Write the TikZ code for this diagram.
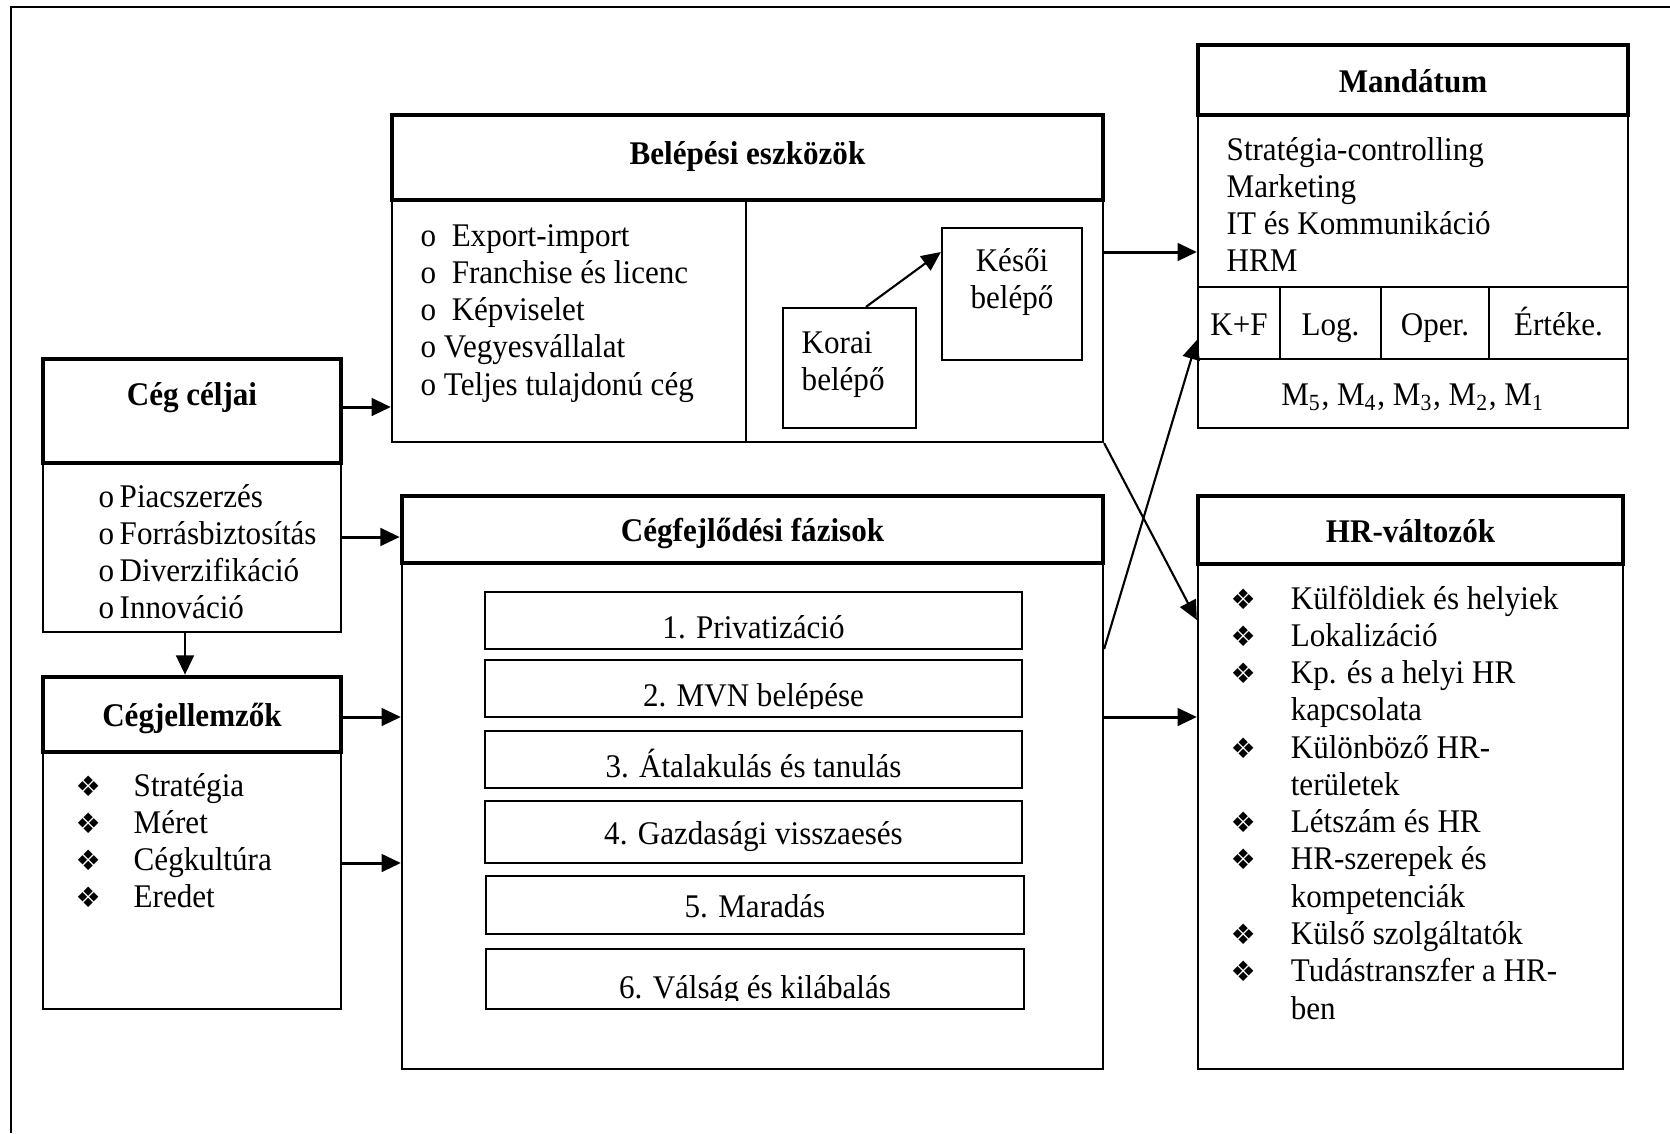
\documentclass[tikz,border=0pt]{standalone}
\usepackage{fontspec}
\setmainfont{Liberation Serif}[FakeStretch=0.94]
\newfontfamily\symfont{DejaVu Sans}
\usetikzlibrary{arrows.meta}
\newcommand{\hrfont}{\fontsize{9.4}{10.6}\selectfont}
\newcommand{\hrlines}[2][l]{\begin{tabular}[t]{@{}#1@{}}#2\end{tabular}}
\newcommand{\dia}[1]{\makebox[#1][l]{\symfont\fontsize{8}{9.6}\selectfont ❖}}
\tikzset{
  hr diagram/.style={font=\hrfont, line join=miter},
  wh/.style 2 args={minimum width=#1*0.01cm, minimum height=#2*0.01cm},
  hr text/.style={text height=8pt, text depth=1pt},
  hr head/.style={draw, line width=1.3pt, inner sep=0pt, hr text, font=\hrfont\bfseries},
  hr body/.style={draw, line width=0.65pt, inner sep=0pt, hr text},
  hr phase/.style={hr body, path picture={
    \clip ([yshift=2.55pt]path picture bounding box.south west) rectangle (path picture bounding box.north east);
    \node[anchor=base, inner sep=0pt, font=\hrfont] at ([yshift=2.85pt]path picture bounding box.south) {#1};}},
  hr list/.style={anchor=base west, inner sep=0pt},
  hr arrow/.style={-{Triangle[length=5.5pt,width=5pt]}, line width=0.85pt},
  hr cross/.style={hr arrow, line width=0.6pt}
}
\begin{document}
\begin{tikzpicture}[hr diagram, x=0.01cm, y=-0.01cm]
\useasboundingbox (0,0) rectangle (1670,1133);
\draw[line width=0.7pt] (11,1133) -- (11,7) -- (1670,7);

% Belépési eszközök
\node[hr head, wh={711}{85}, text depth=4pt] (belhead) at (747.5,157.5) {Belépési eszközök};
\node[hr body, wh={354}{242}] (belleft) at (569,321) {};
\node[hr body, wh={357}{242}] (belright) at (924.5,321) {};
\node[hr list] (bellist) at (420,246) {\hrlines{o~~Export-import\\o~~Franchise és licenc\\o~~Képviselet\\o Vegyesvállalat\\o Teljes tulajdonú cég}};
\node[hr body, wh={133}{120}] (korai) at (849.5,368) {};
\node[hr list] (koraitext) at (801,353) {\hrlines{Korai\\belépő}};
\node[hr body, wh={140}{132}] (kesoi) at (1012,294) {};
\node[hr list, anchor=base] (kesoitext) at (1012,271) {\hrlines[c]{Késői\\belépő}};

% Mandátum
\node[hr head, wh={430}{70}] (mandhead) at (1413,80) {Mandátum};
\node[hr body, wh={430}{172}] (mandbody) at (1413,201) {};
\node[hr list] (mandlist) at (1226,160) {\hrlines{Stratégia-controlling\\Marketing\\IT és Kommunikáció\\HRM}};
\node[hr body, wh={82}{72}] (kf) at (1239,323) {K+F};
\node[hr body, wh={101}{72}] (logi) at (1330.5,323) {Log.};
\node[hr body, wh={108}{72}] (oper) at (1435,323) {Oper.};
\node[hr body, wh={139}{72}] (ertek) at (1558.5,323) {Értéke.};
\node[hr body, wh={430}{69}] (mrow) at (1413,393.5) {M\textsubscript{5}, M\textsubscript{4}, M\textsubscript{3}, M\textsubscript{2}, M\textsubscript{1}};

% Cég céljai
\node[hr head, wh={298}{104}] (celjhead) at (192,411) {};
\node[font=\hrfont\bfseries] (celjtitle) at (192,398) {Cég céljai};
\node[hr body, wh={298}{169}] (celjbody) at (192,547.5) {};
\node[hr list] (celjlist) at (98,507) {\hrlines{o\,Piacszerzés\\o\,Forrásbiztosítás\\o\,Diverzifikáció\\o\,Innováció}};

% Cégjellemzők
\node[hr head, wh={298}{75}] (jellhead) at (192,714.5) {Cégjellemzők};
\node[hr body, wh={298}{257}] (jellbody) at (192,880.5) {};
\node[hr list] (jelllist) at (75,796) {\hrlines{\dia{16.5pt}Stratégia\\\dia{16.5pt}Méret\\\dia{16.5pt}Cégkultúra\\\dia{16.5pt}Eredet}};

% Cégfejlődési fázisok
\node[hr head, wh={701}{67}] (fejlhead) at (752.5,529.5) {Cégfejlődési fázisok};
\node[hr body, wh={701}{506}] (fejlbody) at (752.5,816) {};
\node[hr phase={1. Privatizáció}, wh={537}{57}] (ph1) at (753.5,620.5) {};
\node[hr phase={2. MVN belépése}, wh={537}{57}] (ph2) at (753.5,688.5) {};
\node[hr phase={3. Átalakulás és tanulás}, wh={537}{57}] (ph3) at (753.5,759.5) {};
\node[hr body, wh={537}{62}] (ph4) at (753.5,832) {4. Gazdasági visszaesés};
\node[hr body, wh={538}{58}] (ph5) at (755,905) {5. Maradás};
\node[hr phase={6. Válság és kilábalás}, wh={538}{60}] (ph6) at (755,979) {};

% HR-változók
\node[hr head, wh={425}{68}] (hrhead) at (1410.5,530) {HR-változók};
\node[hr body, wh={425}{505}] (hrbody) at (1410.5,816.5) {};
\node[hr list] (hrlist) at (1230,609) {\hrlines{\dia{17.1pt}Külföldiek és helyiek\\\dia{17.1pt}Lokalizáció\\\dia{17.1pt}Kp. és a helyi HR\\\hspace{17.1pt}kapcsolata\\\dia{17.1pt}Különböző HR-\\\hspace{17.1pt}területek\\\dia{17.1pt}Létszám és HR\\\dia{17.1pt}HR-szerepek és\\\hspace{17.1pt}kompetenciák\\\dia{17.1pt}Külső szolgáltatók\\\dia{17.1pt}Tudástranszfer a HR-\\\hspace{17.1pt}ben}};

% connectors
\draw[hr arrow] (celjhead.east |- 0,407) -- (belleft.west |- 0,407);
\draw[hr arrow] (celjbody.east |- 0,537) -- (fejlhead.west |- 0,537);
\draw[hr arrow] (185,0 |- celjbody.south) -- (185,0 |- jellhead.north);
\draw[hr arrow] (jellhead.east |- 0,717) -- (fejlbody.west |- 0,717);
\draw[hr arrow] (jellbody.east |- 0,863) -- (fejlbody.west |- 0,863);
\draw[hr arrow] (belright.east |- 0,252) -- (mandbody.west |- 0,252);
\draw[hr arrow] (fejlbody.east |- 0,717) -- (hrbody.west |- 0,717);
\draw[hr cross] (korai.north -| 866,0) -- (kesoi.west |- 0,252);
\draw[hr cross] (belright.south east) -- (hrbody.west |- 0,620);
\draw[hr cross] (fejlbody.east |- 0,649) -- (kf.west |- 0,340);
\end{tikzpicture}
\end{document}
